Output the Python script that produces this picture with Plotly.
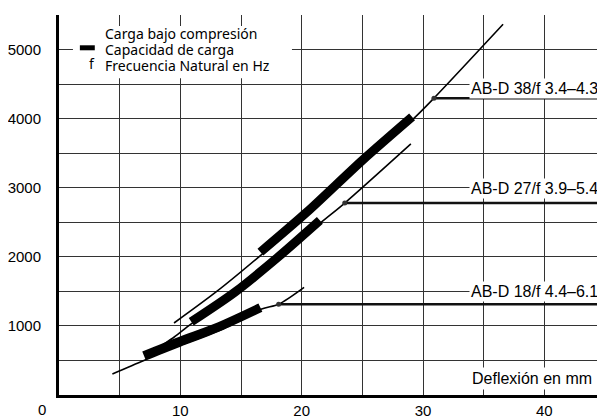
import plotly.graph_objects as go

# ---- data ----
# AB-D 38 (upper)
upper_thin_x = [9.48, 13.0, 16.6, 20.4, 25.0, 29.2, 30.9, 36.6]
upper_thin_y = [1043, 1500, 2020, 2600, 3370, 4000, 4300, 5371]
upper_thick_x = [16.6, 20.4, 25.0, 29.1]
upper_thick_y = [2070, 2645, 3400, 4030]

# AB-D 27 (middle)
middle_thin_x = [7.5, 9.5, 10.9, 14.5, 18.0, 21.6, 23.55, 29.0]
middle_thin_y = [600, 840, 1030, 1460, 1960, 2500, 2781, 3638]
middle_thick_x = [10.9, 14.5, 18.0, 21.5]
middle_thick_y = [1060, 1490, 1990, 2530]

# AB-D 18 (lower)
lower_thin_x = [4.4, 7.0, 10.0, 13.2, 16.7, 18.1, 20.2]
lower_thin_y = [305, 500, 710, 930, 1245, 1315, 1560]
lower_thick_x = [7.0, 10.0, 13.2, 16.6]
lower_thick_y = [570, 780, 990, 1265]

# natural frequency markers and leader lines
freq_x = [30.9, 23.55, 18.1]
freq_y = [4300, 2781, 1315]
freq_labels = ["AB-D 38/f 3.4–4.3", "AB-D 27/f 3.9–5.4", "AB-D 18/f 4.4–6.1"]
label_y = [4445, 2985, 1500]

x_ticks = [10, 20, 30, 40]
y_ticks = [1000, 2000, 3000, 4000, 5000]

legend_rows = ["Carga bajo compresión", "Capacidad de carga", "Frecuencia Natural en Hz"]

X_MAX = 45
LABEL_FONT = dict(family="Liberation Sans, Arial", size=16, color="black")
LEGEND_FONT = dict(family="Noto Sans", size=14, color="black")
TICK_FONT = dict(family="Liberation Sans, Arial", size=15, color="black")
GRID = "#333"

fig = go.Figure()

for xs, ys in [(upper_thin_x, upper_thin_y), (middle_thin_x, middle_thin_y), (lower_thin_x, lower_thin_y)]:
    fig.add_trace(go.Scatter(x=xs, y=ys, mode="lines",
                             line=dict(color="black", width=1.6, shape="spline", smoothing=0.8)))

for xs, ys in [(upper_thick_x, upper_thick_y), (middle_thick_x, middle_thick_y), (lower_thick_x, lower_thick_y)]:
    fig.add_trace(go.Scatter(x=xs, y=ys, mode="lines",
                             line=dict(color="black", width=9, shape="spline", smoothing=0.8)))

# leader lines from the frequency point to the right edge
for fx, fy in zip(freq_x, freq_y):
    fig.add_trace(go.Scatter(x=[fx, X_MAX], y=[fy, fy], mode="lines", line=dict(color="#111", width=2.5)))
fig.add_trace(go.Scatter(x=freq_x, y=freq_y, mode="markers", marker=dict(color="#333", size=5)))

# labels on the right
for txt, ly in zip(freq_labels, label_y):
    fig.add_annotation(x=44.6, y=ly, text=txt, showarrow=False, xanchor="right", yanchor="middle",
                       font=LABEL_FONT, bgcolor="white", borderpad=1)

fig.add_annotation(x=44.2, y=240, text="Deflexión en mm", showarrow=False, xanchor="right",
                   yanchor="middle", font=LABEL_FONT, bgcolor="white", borderpad=2)

# origin label
fig.add_annotation(x=0, y=0, text="0", showarrow=False, xanchor="center", yanchor="top",
                   xshift=-17, yshift=-4, font=TICK_FONT)

# legend box (drawn by hand)
fig.add_shape(type="rect", x0=1.15, x1=19.2, y0=4590, y1=5345, fillcolor="white",
              line=dict(width=0), layer="above")
fig.add_shape(type="line", x0=1.72, x1=2.95, y0=5030, y1=5030, line=dict(color="black", width=5),
              layer="above")
for txt, ly in zip(legend_rows, [5235, 5000, 4770]):
    fig.add_annotation(x=3.6, y=ly, text=txt, showarrow=False, xanchor="left", yanchor="middle",
                       font=LEGEND_FONT)
fig.add_annotation(x=2.7, y=4800, text="f", showarrow=False, xanchor="center", yanchor="middle",
                   font=LEGEND_FONT)

# page body adds an 8px margin, so the figure is sized to fit the 605x419 window
fig.update_layout(
    width=597,
    height=411,
    showlegend=False,
    plot_bgcolor="white",
    paper_bgcolor="white",
    margin=dict(l=48, r=0, t=7, b=20),
)
fig.update_xaxes(
    range=[0, X_MAX],
    tickvals=x_ticks,
    ticktext=[str(v) for v in x_ticks],
    showgrid=True,
    gridcolor=GRID,
    gridwidth=1,
    showline=True,
    linecolor="black",
    linewidth=3,
    zeroline=False,
    ticks="",
    tickfont=TICK_FONT,
    minor=dict(tickvals=[5, 15, 25, 35, 45], showgrid=True, gridcolor=GRID, gridwidth=1),
)
fig.update_yaxes(
    range=[0, 5505],
    tickvals=y_ticks,
    ticktext=[str(v) for v in y_ticks],
    showgrid=True,
    gridcolor=GRID,
    gridwidth=1,
    showline=True,
    linecolor="black",
    linewidth=3,
    zeroline=False,
    ticks="",
    ticklabelstandoff=12,
    tickfont=TICK_FONT,
    minor=dict(tickvals=[500, 1500, 2500, 3500, 4500, 5500], showgrid=True, gridcolor=GRID, gridwidth=1),
)

fig.write_html("out.html")
